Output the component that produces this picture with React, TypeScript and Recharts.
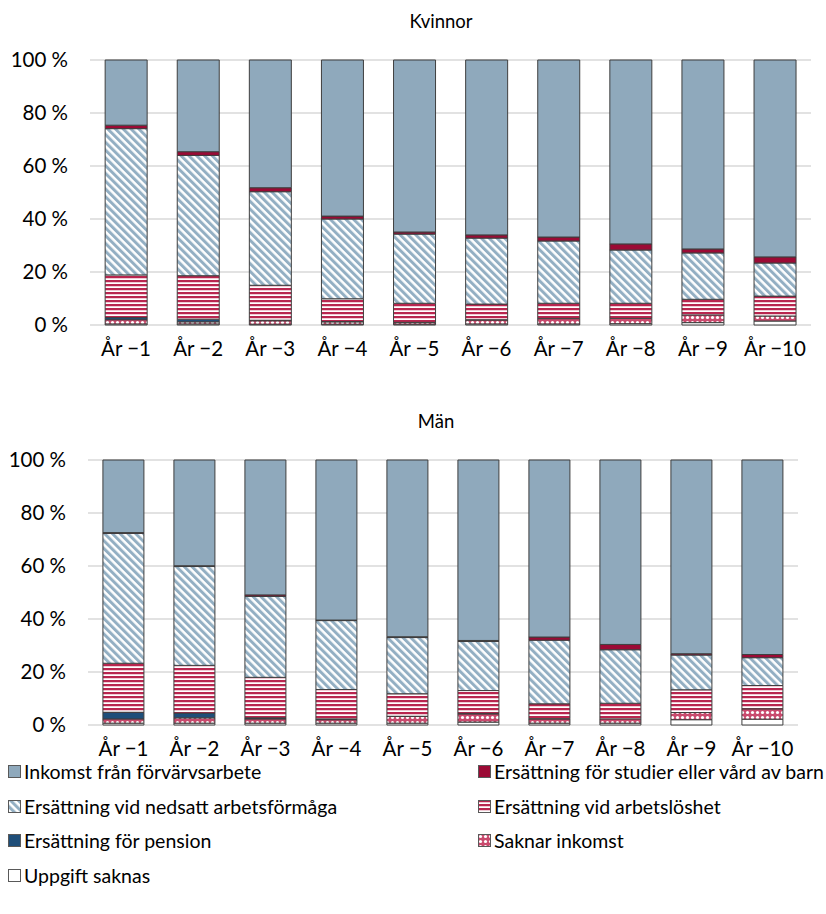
import React from 'react';
import { BarChart, Bar, XAxis, YAxis, CartesianGrid } from 'recharts';

const categories = ['År −1', 'År −2', 'År −3', 'År −4', 'År −5', 'År −6', 'År −7', 'År −8', 'År −9', 'År −10'];
const yTicks = [0, 20, 40, 60, 80, 100];

// Kvinnor (bottom to top)
const kvUppgift = [0.4, 0.4, 0.3, 0.3, 0.3, 0.4, 0.4, 0.5, 0.9, 1.5];
const kvSaknar = [1.6, 0.8, 1.3, 0.9, 0.6, 1.5, 2.0, 2.0, 2.9, 1.9];
const kvPension = [0.8, 1.0, 0.2, 0.1, 0.1, 0.1, 0.1, 0, 0, 0];
const kvArbl = [16.1, 16.4, 13.2, 8.6, 7.2, 5.9, 5.7, 5.7, 5.9, 7.5];
const kvNedsatt = [55.2, 45.4, 35.3, 30.1, 26.1, 24.9, 23.5, 20.1, 17.5, 12.5];
const kvStudier = [1.3, 1.4, 1.5, 1.1, 0.8, 1.2, 1.5, 2.3, 1.5, 2.3];
const kvInkomst = [24.6, 34.6, 48.2, 58.9, 64.9, 66.0, 66.8, 69.4, 71.3, 74.3];

// Män (bottom to top)
const mUppgift = [0.7, 0.7, 0.7, 0.7, 0.7, 1.1, 0.7, 0.7, 2.0, 2.2];
const mSaknar = [1.6, 2.0, 1.6, 1.3, 2.5, 3.1, 1.6, 1.6, 2.7, 3.9];
const mPension = [2.5, 1.8, 0.4, 0.3, 0.1, 0.2, 0.1, 0, 0, 0];
const mArbl = [18.5, 18.0, 15.3, 11.1, 8.5, 8.6, 5.6, 5.9, 8.6, 8.8];
const mNedsatt = [49.0, 37.3, 30.5, 26.0, 21.2, 18.5, 24.0, 20.2, 13.1, 10.5];
const mStudier = [0.3, 0.3, 0.6, 0.2, 0.3, 0.4, 1.2, 2.0, 0.5, 1.2];
const mInkomst = [27.4, 39.9, 50.9, 60.4, 66.7, 68.1, 66.8, 69.6, 73.1, 73.4];

const FONT = 'Lato, "Liberation Sans", sans-serif';

interface SeriesDef {
    key: string;
    name: string;
    fill: string;
}

// stacking order, bottom first
const series: SeriesDef[] = [
    { key: 'uppgift', name: 'Uppgift saknas', fill: '#ffffff' },
    { key: 'saknar', name: 'Saknar inkomst', fill: 'url(#pDots)' },
    { key: 'pension', name: 'Ersättning för pension', fill: '#1f4e79' },
    { key: 'arbl', name: 'Ersättning vid arbetslöshet', fill: 'url(#pHoriz)' },
    { key: 'nedsatt', name: 'Ersättning vid nedsatt arbetsförmåga', fill: 'url(#pDiag)' },
    { key: 'studier', name: 'Ersättning för studier eller vård av barn', fill: '#9b0a35' },
    { key: 'inkomst', name: 'Inkomst från förvärvsarbete', fill: '#8fa9bc' },
];

const buildRows = (cols: number[][]) =>
    categories.map((cat, i) => {
        const row: Record<string, string | number> = { cat };
        series.forEach((s, j) => { row[s.key] = cols[j][i]; });
        return row;
    });

const kvinnorData = buildRows([kvUppgift, kvSaknar, kvPension, kvArbl, kvNedsatt, kvStudier, kvInkomst]);
const manData = buildRows([mUppgift, mSaknar, mPension, mArbl, mNedsatt, mStudier, mInkomst]);

const Patterns = () => (
    <svg width={0} height={0} style={{ position: 'absolute' }}>
        <defs>
            <pattern id="pDiag" patternUnits="userSpaceOnUse" width={5.5} height={5.5} patternTransform="rotate(-45)">
                <rect x={0} y={0} width={5.5} height={5.5} fill="#ffffff" />
                <rect x={0} y={0} width={3} height={5.5} fill="#93afc3" />
            </pattern>
            <pattern id="pHoriz" patternUnits="userSpaceOnUse" width={4} height={4}>
                <rect x={0} y={0} width={4} height={4} fill="#f1c9d4" />
                <rect x={0} y={0} width={4} height={2} fill="#b8264f" />
                <rect x={0} y={3} width={4} height={1} fill="#ffffff" />
            </pattern>
            <pattern id="pDots" patternUnits="userSpaceOnUse" width={5} height={5}>
                <rect x={0} y={0} width={5} height={5} fill="#c94a6d" />
                <circle cx={2.5} cy={2.5} r={1.6} fill="#ffffff" />
            </pattern>
        </defs>
    </svg>
);

interface PanelProps {
    title: string;
    data: Record<string, string | number>[];
    top: number;
    rightMargin: number;
    leftMargin: number;
    titleX: number;
}

const Panel: React.FC<PanelProps> = ({ title, data, top, rightMargin, leftMargin, titleX }) => (
    <div style={{ position: 'absolute', left: 0, top, width: 826, height: 370 }}>
        <div style={{ position: 'absolute', top: 10, left: titleX - 100, width: 200, textAlign: 'center', fontSize: 18.5, color: '#000' }}>
            {title}
        </div>
        <BarChart width={826} height={370} data={data} margin={{ top: 60, right: rightMargin, bottom: 5, left: leftMargin }} barCategoryGap="21%">
            <CartesianGrid vertical={false} stroke="#d9d9d9" strokeWidth={1.5} />
            <XAxis dataKey="cat" axisLine={false} tickLine={false} height={40} tickMargin={10}
                tick={{ fontSize: 20.5, fill: '#000', fontFamily: FONT }} interval={0} />
            <YAxis domain={[0, 100]} ticks={yTicks} width={80} axisLine={false} tickLine={false} tickSize={0} tickMargin={22}
                tickFormatter={(v) => `${v} %`} tick={{ fontSize: 20.5, fill: '#000', fontFamily: FONT }} />
            {series.map((s) => (
                <Bar key={s.key} dataKey={s.key} stackId="a" fill={s.fill} stroke="#3f3f3f" strokeWidth={1} isAnimationActive={false} />
            ))}
        </BarChart>
    </div>
);

const legendRows: [number, number][] = [[6, 5], [4, 3], [2, 1], [0, -1]];

const Swatch = ({ fill }: { fill: string }) => (
    <svg width={13} height={13} style={{ marginRight: 3, flex: 'none' }}>
        <rect x={0.5} y={0.5} width={12} height={12} fill={fill} stroke="#595959" strokeWidth={1} />
    </svg>
);

export default function App() {
    return (
        <div style={{ position: 'absolute', left: 0, top: 0, width: 826, height: 914, background: '#fff', fontFamily: FONT }}>
            <Patterns />
            <Panel title="Kvinnor" data={kvinnorData} top={0} leftMargin={10} rightMargin={15} titleX={441} />
            <Panel title="Män" data={manData} top={400} leftMargin={8} rightMargin={28} titleX={436} />
            {legendRows.map(([a, b], r) => (
                <div key={r} style={{ position: 'absolute', top: 760 + r * 34.7, left: 0, width: 826, height: 26, fontSize: 19.5 }}>
                    {[a, b].map((idx, c) => idx >= 0 && (
                        <div key={c} style={{ position: 'absolute', left: c === 0 ? 8 : 478, top: 0, display: 'flex', alignItems: 'center', whiteSpace: 'nowrap' }}>
                            <Swatch fill={series[idx].fill} />
                            <span>{series[idx].name}</span>
                        </div>
                    ))}
                </div>
            ))}
        </div>
    );
}
